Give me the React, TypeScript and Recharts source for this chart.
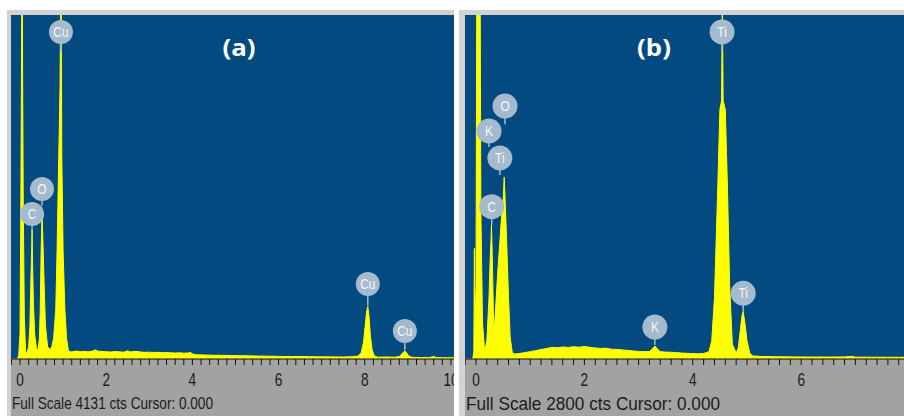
import {
  Area,
  AreaChart,
  CartesianGrid,
  ReferenceDot,
  ReferenceLine,
  XAxis,
  YAxis,
} from "recharts";

// spectrum (a): energy in keV, counts (full scale 4131 cts)
const energyA = [
  -0.209, -0.06, -0.03, 0.0, 0.02, 0.035, 0.05, 0.06, 0.075, 0.1, 0.13, 0.16,
  0.2, 0.23, 0.25, 0.27, 0.28, 0.29, 0.31, 0.34, 0.38, 0.42, 0.45, 0.47, 0.49,
  0.5, 0.51, 0.53, 0.56, 0.59, 0.64, 0.7, 0.74, 0.78, 0.83, 0.86, 0.9, 0.93,
  0.95, 0.97, 1.0, 1.04, 1.08, 1.12, 1.15, 1.2, 1.3, 1.4, 1.5, 1.6, 1.7, 1.75,
  1.8, 1.9, 2.0, 2.1, 2.2, 2.3, 2.4, 2.5, 2.55, 2.6, 2.7, 2.8, 2.9, 3.0, 3.1,
  3.2, 3.3, 3.4, 3.5, 3.6, 3.7, 3.8, 3.9, 3.95, 4.0, 4.1, 4.3, 4.5, 4.7, 4.9,
  5.1, 5.3, 5.5, 5.7, 5.9, 6.1, 6.3, 6.5, 6.7, 6.9, 7.1, 7.3, 7.5, 7.7, 7.85,
  7.92, 7.97, 8.01, 8.04, 8.07, 8.1, 8.13, 8.17, 8.22, 8.3, 8.5, 8.7, 8.8,
  8.85, 8.9, 8.93, 8.97, 9.02, 9.1, 9.3, 9.5, 9.6, 9.65, 9.8, 10.07,
];
const countsA = [
  0, 0, 40, 300, 1900, 3550, 6000, 3500, 1900, 500, 100, 60,
  150, 400, 900, 1300, 1550, 1200, 700, 300, 130, 110, 250, 600, 1300,
  1500, 1770, 1450, 900, 400, 150, 110, 150, 250, 600, 1300, 2450, 3300,
  5200, 2400, 1300, 600, 250, 110, 90, 85, 95, 88, 92, 86, 98, 110,
  95, 90, 88, 84, 90, 86, 82, 98, 85, 88, 92, 84, 80, 82, 78,
  80, 76, 78, 74, 72, 75, 70, 72, 80, 62, 50, 48, 45, 44, 42,
  40, 38, 36, 34, 33, 30, 29, 30, 28, 26, 26, 25, 24, 28, 35,
  80, 200, 400, 560, 630, 500, 280, 110, 40, 22, 24, 22, 30,
  55, 85, 100, 75, 35, 20, 18, 18, 30, 18, 16, 15,
];

// spectrum (b): full scale 2800 cts
const energyB = [
  -0.203, -0.06, -0.04, -0.03, -0.02, 0.0, 0.015, 0.075, 0.09, 0.12, 0.16,
  0.2, 0.24, 0.26, 0.28, 0.285, 0.3, 0.32, 0.335, 0.36, 0.4, 0.44, 0.47, 0.5,
  0.52, 0.54, 0.57, 0.6, 0.63, 0.67, 0.72, 0.8, 0.9, 1.0, 1.1, 1.2, 1.3, 1.4,
  1.5, 1.6, 1.7, 1.8, 1.9, 2.0, 2.1, 2.2, 2.3, 2.4, 2.5, 2.6, 2.7, 2.8, 2.9,
  3.0, 3.1, 3.2, 3.25, 3.3, 3.35, 3.4, 3.5, 3.6, 3.7, 3.8, 3.9, 4.0, 4.1, 4.2,
  4.3, 4.35, 4.4, 4.46, 4.5, 4.53, 4.545, 4.56, 4.6, 4.64, 4.68, 4.73, 4.8,
  4.84, 4.88, 4.91, 4.93, 4.96, 5.0, 5.05, 5.1, 5.3, 5.6, 5.9, 6.2, 6.5, 6.8,
  6.94, 7.0, 7.3, 7.6, 7.897,
];
const countsB = [
  0, 0, 60, 900, 200, 600, 3200, 3200, 1200, 300, 60,
  150, 500, 800, 1000, 1090, 850, 400, 210, 400, 700, 950, 1150, 1280,
  1480, 1270, 900, 500, 180, 50, 40, 45, 52, 60, 68, 78, 85, 95,
  92, 98, 94, 100, 96, 102, 95, 90, 86, 88, 80, 78, 74, 70, 66,
  62, 60, 62, 80, 106, 80, 60, 56, 55, 52, 48, 46, 44, 42, 45,
  60, 150, 500, 1390, 2030, 2100, 2900, 2100, 2030, 1390, 600, 120, 50,
  90, 250, 360, 383, 300, 150, 50, 25, 20, 18, 17, 16, 16, 17,
  22, 15, 15, 14, 14,
];

const majorTicksA = [0, 2, 4, 6, 8, 10];
const majorTicksB = [0, 2, 4, 6];

// element markers: energy, bubble height and stem tip, in counts
const markersA = [
  { el: "Cu", energy: 0.95, label: 3927, tip: 3690 },
  { el: "O", energy: 0.51, label: 2042, tip: 1840 },
  { el: "C", energy: 0.28, label: 1741, tip: 1540 },
  { el: "Cu", energy: 8.07, label: 901, tip: 640 },
  { el: "Cu", energy: 8.93, label: 336, tip: 108 },
];
const markersB = [
  { el: "Ti", energy: 4.54, label: 2662, tip: 2510 },
  { el: "O", energy: 0.535, label: 2059, tip: 1910 },
  { el: "K", energy: 0.24, label: 1856, tip: 1726 },
  { el: "Ti", energy: 0.44, label: 1636, tip: 1498 },
  { el: "C", energy: 0.29, label: 1240, tip: 1091 },
  { el: "K", energy: 3.3, label: 260, tip: 114 },
  { el: "Ti", energy: 4.93, label: 535, tip: 383 },
];

const BLUE = "#024a80";
const AXIS_GRAY = "#a2a2a2";
const FRAME = "#d2d2d2";
const BUBBLE = "#a6bacd";

function buildTicks(last: number) {
  const out: number[] = [];
  for (let i = -2; i <= Math.round(last * 10); i += 2) out.push(i / 10);
  return out;
}

function EnergyTick(props: any) {
  const { x, y, payload, majors } = props;
  const v = Number(payload.value);
  const isMajor = majors.some((m: number) => Math.abs(m - v) < 1e-6);
  return (
    <g>
      <line x1={x} x2={x} y1={y} y2={y + 6} stroke="#111" strokeWidth={1} />
      {isMajor && (
        <text
          x={0}
          y={0}
          transform={`translate(${x},${y + 27}) scale(0.76,1)`}
          textAnchor="middle"
          fontSize={18}
          fill="#1b1b1b"
          fontFamily="'Liberation Sans', Arial, sans-serif"
        >
          {v}
        </text>
      )}
    </g>
  );
}

function FooterText(props: any) {
  const { viewBox, text, width, fontSize, dy } = props;
  if (!viewBox) return null;
  return (
    <text
      x={viewBox.x + 1}
      y={viewBox.y + dy}
      textLength={width}
      lengthAdjust="spacingAndGlyphs"
      fontSize={fontSize}
      fill="#1b1b1b"
      fontFamily="'Liberation Sans', Arial, sans-serif"
    >
      {text}
    </text>
  );
}

function Bubble({ cx, cy, r, text }: any) {
  return (
    <g>
      <circle cx={cx} cy={cy} r={r} fill={BUBBLE} />
      <text
        x={0}
        y={0}
        transform={`translate(${cx},${cy + 5}) scale(0.85,1)`}
        textAnchor="middle"
        fontSize={14}
        fill="#f2f6fa"
        fontFamily="'Liberation Sans', Arial, sans-serif"
      >
        {text}
      </text>
    </g>
  );
}

interface SpectrumPanelProps {
  left: number;
  borderLeft: number;
  width: number;
  energy: number[];
  counts: number[];
  fullScale: number;
  domain: [number, number];
  majors: number[];
  markers: { el: string; energy: number; label: number; tip: number }[];
  title: string;
  titleX: number;
  footer: string;
  footerWidth: number;
  footerSize: number;
  footerDy: number;
  bubbleR: number;
}

function SpectrumPanel({
  left,
  borderLeft,
  width,
  energy,
  counts,
  fullScale,
  domain,
  majors,
  markers,
  title,
  titleX,
  footer,
  footerWidth,
  footerSize,
  footerDy,
  bubbleR,
}: SpectrumPanelProps) {
  const data = energy.map((e, i) => ({ e, c: counts[i] }));
  const ticks = buildTicks(domain[1]);
  const height = 401;

  return (
    <div
      style={{
        position: "absolute",
        left,
        top: 10,
        width,
        height,
        borderTop: `5px solid ${FRAME}`,
        borderLeft: `${borderLeft}px solid ${FRAME}`,
        background: AXIS_GRAY,
        overflow: "hidden",
      }}
    >
      <AreaChart
        width={width}
        height={height}
        data={data}
        margin={{ top: 0, right: 0, bottom: 0, left: 0 }}
      >
        <CartesianGrid horizontal={false} vertical={false} fill={BLUE} />
        <XAxis
          dataKey="e"
          type="number"
          domain={domain}
          allowDataOverflow
          ticks={ticks}
          interval={0}
          height={57}
          tickSize={0}
          tickMargin={0}
          tickLine={false}
          axisLine={{ stroke: "#111" }}
          tick={<EnergyTick majors={majors} />}
          label={
            <FooterText
              text={footer}
              width={footerWidth}
              fontSize={footerSize}
              dy={footerDy}
            />
          }
        />
        <YAxis hide type="number" domain={[0, fullScale]} allowDataOverflow />
        <Area
          type="linear"
          dataKey="c"
          stroke="#ffff00"
          strokeWidth={1}
          fill="#ffff00"
          fillOpacity={1}
          dot={false}
          activeDot={false}
          isAnimationActive={false}
        />
        {markers.map((m, i) => (
          <ReferenceLine
            key={`s${i}`}
            segment={[
              { x: m.energy, y: m.tip },
              { x: m.energy, y: m.label },
            ]}
            stroke={BUBBLE}
            strokeWidth={1.5}
            ifOverflow="visible"
          />
        ))}
        {markers.map((m, i) => (
          <ReferenceDot
            key={`d${i}`}
            x={m.energy}
            y={m.label}
            r={bubbleR}
            ifOverflow="visible"
            shape={(p: any) => (
              <Bubble cx={p.cx} cy={p.cy} r={bubbleR} text={m.el} />
            )}
          />
        ))}
      </AreaChart>
      <div
        style={{
          position: "absolute",
          left: titleX,
          top: 32,
          transform: "translate(-50%, -50%) scaleX(1.12)",
          color: "#ffffff",
          fontFamily: "'Open Sans', sans-serif",
          fontWeight: 700,
          fontSize: 23,
          lineHeight: 1,
          whiteSpace: "nowrap",
        }}
      >
        {title}
      </div>
    </div>
  );
}

export default function App() {
  return (
    <div
      style={{
        position: "absolute",
        left: 0,
        top: 0,
        width: 904,
        height: 416,
        background: "#ffffff",
        overflow: "hidden",
      }}
    >
      <SpectrumPanel
        left={7}
        borderLeft={4}
        width={443}
        energy={energyA}
        counts={countsA}
        fullScale={4131}
        domain={[-0.209, 10.07]}
        majors={majorTicksA}
        markers={markersA}
        title="(a)"
        titleX={228}
        footer="Full Scale 4131 cts Cursor: 0.000"
        footerWidth={201}
        footerSize={17}
        footerDy={50}
        bubbleR={12}
      />
      <SpectrumPanel
        left={459}
        borderLeft={6}
        width={439}
        energy={energyB}
        counts={countsB}
        fullScale={2800}
        domain={[-0.203, 7.897]}
        majors={majorTicksB}
        markers={markersB}
        title="(b)"
        titleX={189}
        footer="Full Scale 2800 cts Cursor: 0.000"
        footerWidth={254}
        footerSize={18}
        footerDy={51}
        bubbleR={12.5}
      />
    </div>
  );
}
